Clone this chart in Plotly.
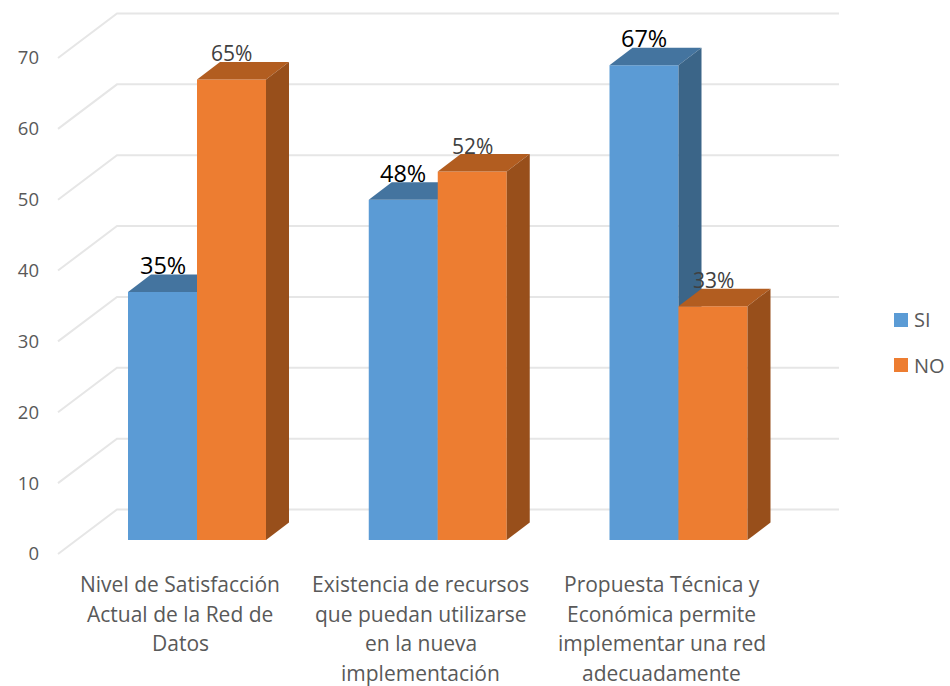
import plotly.graph_objects as go

# ---- data ----
series_names = ["SI", "NO"]
si_values = [35, 48, 67]
no_values = [65, 52, 33]
category_lines = [
    ["Nivel de Satisfacción", "Actual de la Red de", "Datos"],
    ["Existencia de recursos", "que puedan utilizarse", "en la nueva", "implementación"],
    ["Propuesta Técnica y", "Económica permite", "implementar una red", "adecuadamente"],
]
y_ticks = [0, 10, 20, 30, 40, 50, 60, 70]

# ---- geometry (px in the 950x686 page) ----
W, H = 950, 686
L, R, T, B = 50, 945, 5, 568
PX_PER_X = 240.75
PX_PER_Y = 7.086
XC_LABEL, XC_BAR = 180.0, 197.0       # px of category 0 for labels / for bars
Y0_WALL, Y0_BAR = 554.0, 540.0        # px of value 0 on the axis / at bar foot
BAR_W = 69 / PX_PER_X
DX, DY = 23 / PX_PER_X, 17.5 / PX_PER_Y  # bar depth
WALL_LEFT, WALL_BACK, WALL_RIGHT = 58, 117, 839
WALL_RISE = 44.5 / PX_PER_Y

def xr(c):
    return [(L - c) / PX_PER_X, (R - c) / PX_PER_X]
def yr(c):
    return [(c - B) / PX_PER_Y, (c - T) / PX_PER_Y]
def xl(px):
    return (px - XC_LABEL) / PX_PER_X
def paper_y(px):
    return (B - px) / (B - T)

GRID = "#E6E6E6"
TXT = "#595959"
FONT = "Open Sans"
FACES = {
    "SI": dict(front="#5B9BD5", top="#44749F", side="#3B6588"),
    "NO": dict(front="#ED7D31", top="#B25D20", side="#984F1B"),
}

fig = go.Figure()

# wall grid lines, on the tick axis
for v in y_ticks:
    fig.add_trace(go.Scatter(
        x=[xl(WALL_LEFT), xl(WALL_BACK), xl(WALL_RIGHT)],
        y=[v, v + WALL_RISE, v + WALL_RISE],
        mode="lines", line=dict(color=GRID, width=2),
        hoverinfo="skip", showlegend=False, xaxis="x", yaxis="y"))

def add_series(name, values, sign, xa, ya):
    f = FACES[name]
    centers = [i + sign * BAR_W / 2 for i in range(len(values))]
    fig.add_trace(go.Bar(
        x=centers, y=values, width=BAR_W, name=name,
        marker=dict(color=f["front"], line=dict(width=0)),
        showlegend=False, xaxis=xa, yaxis=ya))
    for c, v in zip(centers, values):
        a, b = c - BAR_W / 2, c + BAR_W / 2
        fig.add_trace(go.Scatter(
            x=[a, a + DX, b + DX, b, a], y=[v, v + DY, v + DY, v, v],
            mode="lines", fill="toself", fillcolor=f["top"], line=dict(width=0),
            hoverinfo="skip", showlegend=False, xaxis=xa, yaxis=ya))
        fig.add_trace(go.Scatter(
            x=[b, b + DX, b + DX, b, b], y=[0, DY, v + DY, v, 0],
            mode="lines", fill="toself", fillcolor=f["side"], line=dict(width=0),
            hoverinfo="skip", showlegend=False, xaxis=xa, yaxis=ya))
    return centers

si_c = add_series("SI", si_values, -1, "x2", "y2")
no_c = add_series("NO", no_values, +1, "x3", "y3")

annotations = []
for c, v in zip(si_c, si_values):
    annotations.append(dict(x=c, y=v, xref="x2", yref="y2", text=f"{v}%", showarrow=False,
                            yshift=27, font=dict(family=FONT, size=23.5, color="#000000")))
for c, v in zip(no_c, no_values):
    annotations.append(dict(x=c, y=v, xref="x3", yref="y3", text=f"{v}%", showarrow=False,
                            yshift=26, font=dict(family=FONT, size=21, color="#404040")))
for i, lines in enumerate(category_lines):
    for j, line in enumerate(lines):
        annotations.append(dict(x=i, y=paper_y(584 + 29.6 * j), xref="x", yref="paper",
                                text=line, showarrow=False, yanchor="middle",
                                font=dict(family=FONT, size=21, color=TXT)))
# legend
shapes = []
for name, top in zip(series_names, [313, 358]):
    shapes.append(dict(type="rect", xref="paper", yref="paper",
                       x0=(894 - L) / (R - L), x1=(908 - L) / (R - L),
                       y0=paper_y(top + 14), y1=paper_y(top),
                       fillcolor=FACES[name]["front"], line=dict(width=0)))
    annotations.append(dict(x=(914 - L) / (R - L), y=paper_y(top + 7), xref="paper", yref="paper",
                            text=name, showarrow=False, xanchor="left", yanchor="middle",
                            xshift=-2, font=dict(family=FONT, size=20, color=TXT)))

hidden = dict(visible=False, fixedrange=True)
fig.update_layout(
    width=W, height=H, margin=dict(l=L, r=W - R, t=T, b=H - B, pad=0),
    paper_bgcolor="white", plot_bgcolor="white", showlegend=False,
    annotations=annotations, shapes=shapes,
    xaxis=dict(range=xr(XC_LABEL), showgrid=False, zeroline=False, showticklabels=False, ticks="", fixedrange=True),
    yaxis=dict(range=yr(Y0_WALL), tickvals=y_ticks, showgrid=False, zeroline=False, showline=False,
               ticks="", ticklabelstandoff=10, tickfont=dict(family=FONT, size=18.5, color=TXT), fixedrange=True),
    xaxis2=dict(range=xr(XC_BAR), overlaying="x", **hidden),
    yaxis2=dict(range=yr(Y0_BAR), overlaying="y", **hidden),
    xaxis3=dict(range=xr(XC_BAR), overlaying="x", **hidden),
    yaxis3=dict(range=yr(Y0_BAR), overlaying="y", **hidden),
)
fig.write_html("out.html", config={"displayModeBar": False},
               post_script="document.body.style.margin='0';document.body.style.overflow='hidden';")
